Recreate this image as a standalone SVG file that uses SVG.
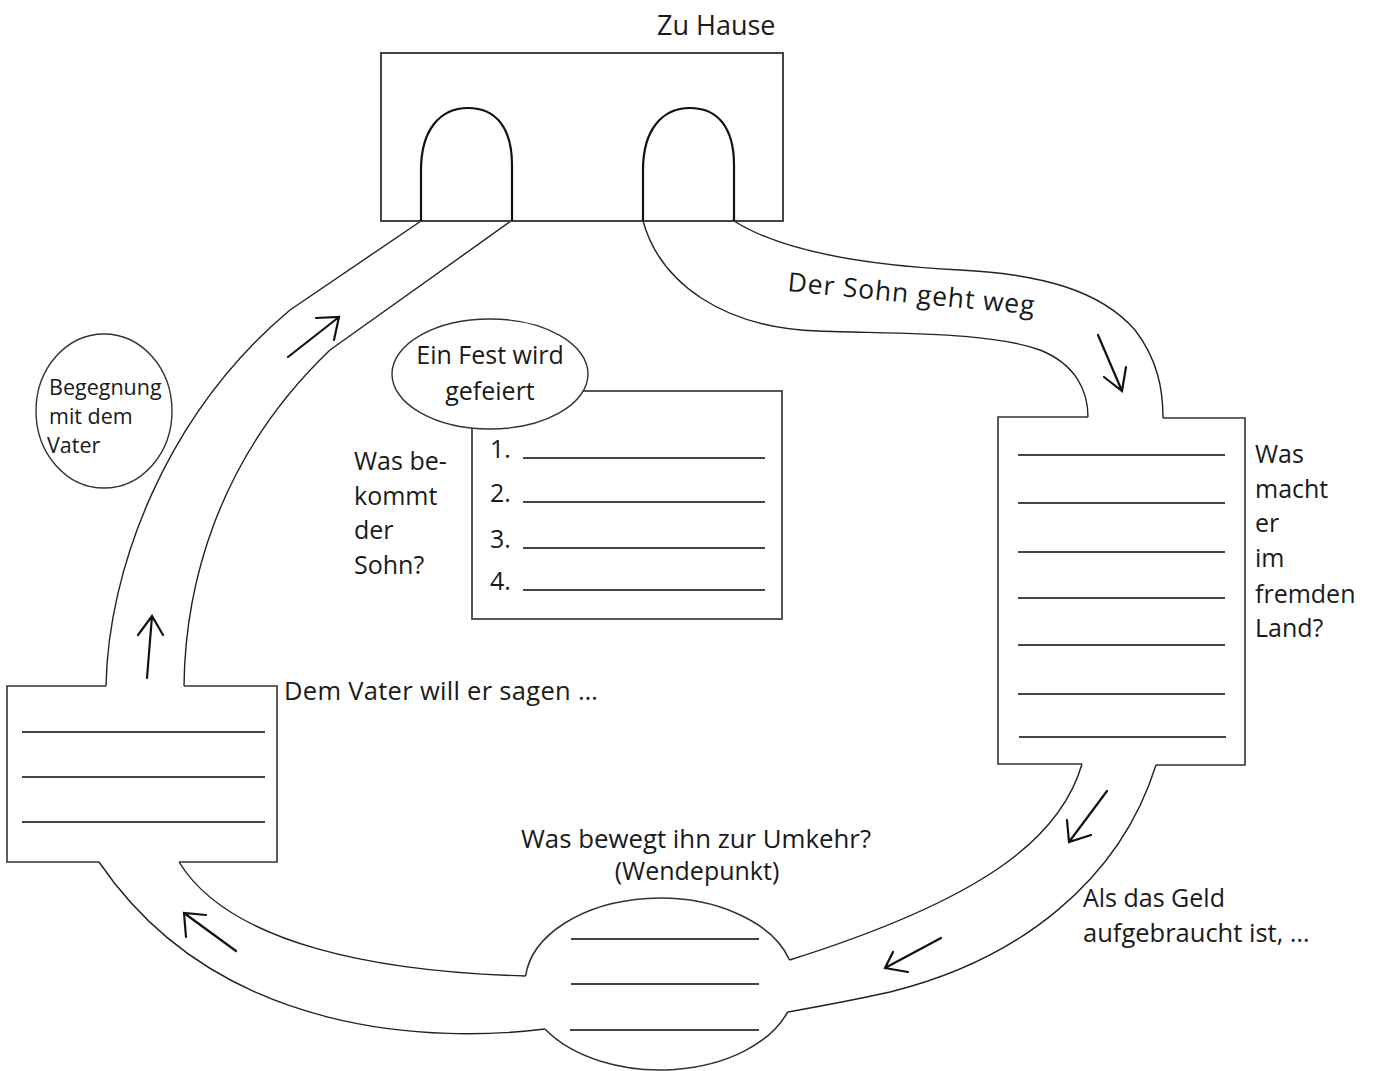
<svg xmlns="http://www.w3.org/2000/svg" width="1375" height="1071" viewBox="0 0 1375 1071">
<style>
text{font-family:"Open Sans","Noto Sans","Liberation Sans",sans-serif;fill:#1a1a1a;font-size:25px}
.road{fill:none;stroke:#222;stroke-width:1.4}
.edge{fill:none;stroke:#333;stroke-width:1.6}
.wl{stroke:#444;stroke-width:1.8}
.arr{fill:none;stroke:#111;stroke-width:2.2;stroke-linecap:round;stroke-linejoin:miter}
.door{fill:none;stroke:#111;stroke-width:2.2}
</style>
<rect width="1375" height="1071" fill="#fff"/>

<g id="connectors">
  <!-- left road up to house -->
  <path class="road" d="M106,686 C108,570 165,415 290,310 L421,221"/>
  <path class="road" d="M184,686 C185,590 215,460 330,350 L511,221"/>
  <!-- right road from house to right box -->
  <path class="road" d="M643,221 C660,282 722,328 818,331 C905,334 990,332 1040,350 C1075,364 1088,390 1088,417"/>
  <path class="road" d="M734,221 C780,250 860,265 960,270 C1040,274 1100,290 1135,330 C1158,360 1163,390 1163,418"/>
  <!-- right lower road to bottom ellipse -->
  <path class="road" d="M1082,764 C1060,840 980,900 789.6,960"/>
  <path class="road" d="M1156,765 C1120,880 1020,960 890,992 C840,1003 810,1008 787.6,1012"/>
  <!-- left lower road to left box -->
  <path class="road" d="M525.6,976 C380,972 230,945 179,862"/>
  <path class="road" d="M545,1029 C440,1042 220,1040 99,862"/>
  <!-- arrows -->
  <path class="arr" d="M288,357 L339,317 M316,318 L339,317 L334,340"/>
  <path class="arr" d="M147,678 L152,616 M138,635 L152,616 L163,635"/>
  <path class="arr" d="M1098,335 L1122,391 M1104,377 L1122,391 L1126,367"/>
  <path class="arr" d="M1107,791 L1069,842 M1067,820 L1069,842 L1091,835"/>
  <path class="arr" d="M941,938 L885,968 M893,952 L885,968 L908,972"/>
  <path class="arr" d="M236,951 L184,913 M186,937 L184,913 L206,915"/>
</g>

<g id="house">
  <text x="657" y="35" style="font-size:27px">Zu Hause</text>
  <rect x="381" y="53" width="402" height="168" fill="none" stroke="#444" stroke-width="2"/>
  <path class="door" d="M421,221 L421,170 C421,130 440,108 468,108 C496,108 512,128 512,165 L512,221"/>
  <path class="door" d="M643,221 L643,170 C643,130 662,108 690,108 C718,108 734,128 734,165 L734,221"/>
</g>

<g id="label-weg">
  <text x="787" y="291" transform="rotate(5.5 787 291)" style="font-size:26.5px;letter-spacing:0.9px">Der Sohn geht weg</text>
</g>

<g id="box-land">
  <path class="edge" d="M1088,417 L998,417 L998,764 L1082,764 M1156,765 L1245,765 L1245,418 L1163,418"/>
  <g class="wl">
    <line x1="1018" y1="455" x2="1225" y2="455"/>
    <line x1="1018" y1="503" x2="1225" y2="503"/>
    <line x1="1018" y1="552" x2="1225" y2="552"/>
    <line x1="1018" y1="598" x2="1225" y2="598"/>
    <line x1="1018" y1="645" x2="1225" y2="645"/>
    <line x1="1018" y1="694" x2="1225" y2="694"/>
    <line x1="1019" y1="737" x2="1226" y2="737"/>
  </g>
  <text x="1255" y="463">Was</text>
  <text x="1255" y="498">macht</text>
  <text x="1255" y="532">er</text>
  <text x="1255" y="567">im</text>
  <text x="1255" y="603">fremden</text>
  <text x="1255" y="637">Land?</text>
</g>

<g id="label-geld">
  <text x="1083" y="907">Als das Geld</text>
  <text x="1083" y="942" style="font-size:25.5px">aufgebraucht ist, …</text>
</g>

<g id="wendepunkt">
  <text x="521" y="848" style="font-size:25.8px">Was bewegt ihn zur Umkehr?</text>
  <text x="697" y="880" text-anchor="middle">(Wendepunkt)</text>
  <path class="edge" d="M525.6,976 A135,86 0 0 1 789.6,960 M787.6,1012 A135,86 0 0 1 545,1029"/>
  <g class="wl">
    <line x1="571" y1="939" x2="759" y2="939"/>
    <line x1="571" y1="984" x2="759" y2="984"/>
    <line x1="570" y1="1030" x2="759" y2="1030"/>
  </g>
</g>

<g id="box-sagen">
  <path class="edge" d="M106,686 L7,686 L7,862 L99,862 M179,862 L277,862 L277,686 L184,686"/>
  <g class="wl">
    <line x1="22" y1="732" x2="265" y2="732"/>
    <line x1="22" y1="777" x2="265" y2="777"/>
    <line x1="22" y1="822" x2="265" y2="822"/>
  </g>
  <text x="284" y="700" style="font-size:25.5px;letter-spacing:0.3px">Dem Vater will er sagen …</text>
</g>

<g id="begegnung">
  <ellipse cx="104" cy="411" rx="68" ry="77" fill="#fff" stroke="#333" stroke-width="1.4"/>
  <text x="49" y="395" style="font-size:21.5px">Begegnung</text>
  <text x="49" y="424" style="font-size:21.5px">mit dem</text>
  <text x="47" y="453" style="font-size:21.5px">Vater</text>
</g>

<g id="fest">
  <rect x="472" y="391" width="310" height="228" fill="#fff" stroke="#444" stroke-width="1.8"/>
  <ellipse cx="490" cy="374" rx="98" ry="55" fill="#fff" stroke="#333" stroke-width="1.4"/>
  <text x="490" y="364" text-anchor="middle">Ein Fest wird</text>
  <text x="490" y="400" text-anchor="middle">gefeiert</text>
  <text x="490" y="458">1.</text>
  <text x="490" y="502">2.</text>
  <text x="490" y="548">3.</text>
  <text x="490" y="590">4.</text>
  <g class="wl">
    <line x1="523" y1="458" x2="765" y2="458"/>
    <line x1="523" y1="502" x2="765" y2="502"/>
    <line x1="523" y1="548" x2="765" y2="548"/>
    <line x1="523" y1="590" x2="765" y2="590"/>
  </g>
  <text x="354" y="470">Was be-</text>
  <text x="354" y="505">kommt</text>
  <text x="354" y="539">der</text>
  <text x="354" y="574">Sohn?</text>
</g>
</svg>
